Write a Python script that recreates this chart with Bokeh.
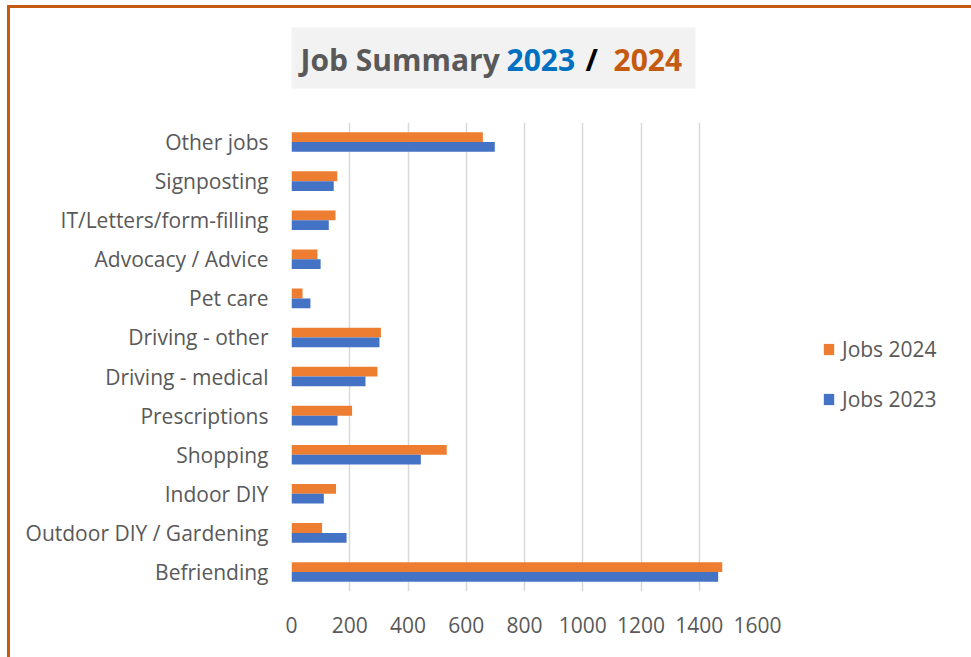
from bokeh.plotting import figure
from bokeh.layouts import column
from bokeh.models import (FactorRange, Range1d, FixedTicker, Legend, LegendItem,
                          ColumnDataSource)
from bokeh.core.properties import value
from bokeh.transform import dodge
from bokeh.embed import file_html
from bokeh.resources import INLINE

categories = ["Other jobs", "Signposting", "IT/Letters/form-filling", "Advocacy / Advice",
              "Pet care", "Driving - other", "Driving - medical", "Prescriptions",
              "Shopping", "Indoor DIY", "Outdoor DIY / Gardening", "Befriending"]
jobs_2023 = [698, 145, 128, 100, 65, 302, 254, 158, 444, 111, 189, 1465]
jobs_2024 = [657, 157, 151, 89, 38, 307, 295, 208, 533, 153, 105, 1479]
x_ticks = [0, 200, 400, 600, 800, 1000, 1200, 1400, 1600]
series_names = ["Jobs 2024", "Jobs 2023"]
title_parts = ["Job Summary", "2023", "/", "2024"]
title_colors = ["#595959", "#0070C0", "#000000", "#C55A11"]

C24 = "#ED7D31"
C23 = "#4472C4"
TXT = "#595959"
FONT = "Open Sans"

BL, FW, BR = 281, 466, 205       # left border, frame width, right border (px)
TITLE_H = 108

# ---------- title strip: own figure, pixel coordinates of the canvas ----------
t = figure(frame_width=FW, frame_height=TITLE_H,
           x_range=Range1d(BL, BL + FW), y_range=Range1d(TITLE_H, 0),
           output_backend="svg", toolbar_location=None,
           min_border_left=BL, min_border_right=BR, min_border_top=0, min_border_bottom=0,
           x_axis_type=None, y_axis_type=None)
t.grid.visible = False
t.outline_line_color = None
t.quad(left=270, right=685, top=19, bottom=80, fill_color="#f2f2f2", line_color=None)
title_src = ColumnDataSource(dict(x=[290, 496, 575, 603], y=[51, 51, 51, 51],
                                  text=title_parts, color=title_colors))
t.text(x="x", y="y", text="text", text_color="color", source=title_src,
       text_font=value(FONT), text_font_style="bold", text_font_size="30px",
       text_align="left", text_baseline="alphabetic")

# ---------- main bar chart ----------
src = ColumnDataSource(dict(cat=categories, y2023=jobs_2023, y2024=jobs_2024))

p = figure(frame_width=FW, frame_height=469,
           y_range=FactorRange(factors=categories[::-1]),
           x_range=Range1d(0, 1600),
           output_backend="svg", toolbar_location=None,
           min_border_left=BL, min_border_right=BR,
           min_border_top=6, min_border_bottom=66)

r24 = p.hbar(y=dodge("cat", 0.125, range=p.y_range), left=0, right="y2024", height=0.25,
             fill_color=C24, line_color=None, source=src)
r23 = p.hbar(y=dodge("cat", -0.125, range=p.y_range), left=0, right="y2023", height=0.25,
             fill_color=C23, line_color=None, source=src)

p.outline_line_color = None
p.ygrid.grid_line_color = None
p.xgrid.grid_line_color = "#d9d9d9"
p.xgrid.grid_line_width = 1.5
p.xaxis.ticker = FixedTicker(ticks=x_ticks)

for ax in (p.xaxis[0], p.yaxis[0]):
    ax.axis_line_color = None
    ax.major_tick_line_color = None
    ax.minor_tick_line_color = None
    ax.major_tick_out = 0
    ax.major_tick_in = 0
    ax.major_label_text_font = FONT
    ax.major_label_text_font_size = "21px"
    ax.major_label_text_color = TXT
p.xaxis.major_label_standoff = 25
p.yaxis.major_label_standoff = 23

legend = Legend(items=[LegendItem(label=series_names[0], renderers=[r24]),
                       LegendItem(label=series_names[1], renderers=[r23])],
                location="center_left", orientation="vertical",
                title=" ", title_text_font=FONT, title_text_font_size="21px",
                title_standoff=6,
                label_text_font=FONT, label_text_font_size="21px", label_text_color=TXT,
                glyph_width=13, glyph_height=14, label_height=14, label_standoff=7,
                spacing=22, padding=0, margin=65, border_line_color=None,
                background_fill_alpha=0)
p.add_layout(legend, "right")

page = column(t, p, spacing=0)
page.styles = {"box-sizing": "content-box",
               "margin-left": "7px", "margin-top": "5px",
               "border-top": "3px solid #c55a11", "border-left": "3px solid #c55a11",
               "border-right": "3px solid #c55a11",
               "box-shadow": "1px 0 0 0 #ffffff, 5px 0 0 0 #1e9ad8"}

open("out.html", "w").write(file_html(page, INLINE))
